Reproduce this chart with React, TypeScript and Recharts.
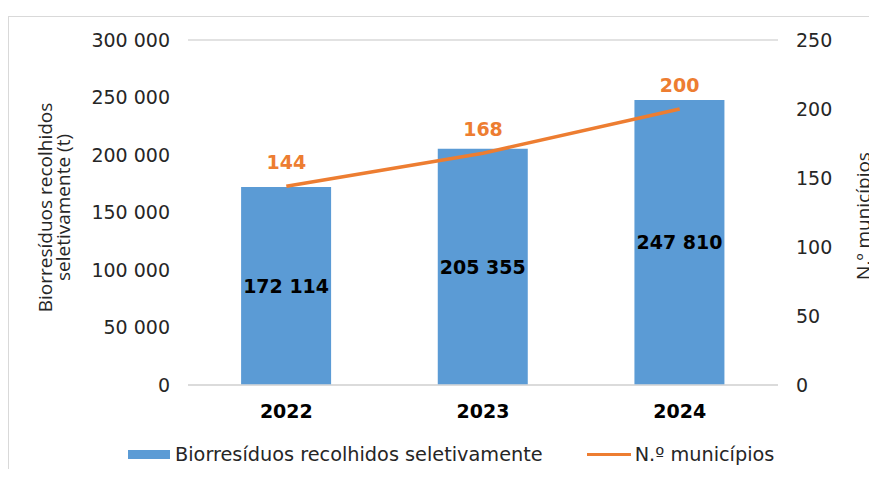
import React from 'react'
import {
  ComposedChart, Bar, Line, XAxis, YAxis, CartesianGrid, Legend, LabelList,
} from 'recharts'

const years = ['2022', '2023', '2024']
const residuos = [172114, 205355, 247810]
const municipios = [144, 168, 200]
const leftTicks = [0, 50000, 100000, 150000, 200000, 250000, 300000]
const rightTicks = [0, 50, 100, 150, 200, 250]

const data = years.map((year, i) => ({ year, residuos: residuos[i], municipios: municipios[i] }))

const BLUE = '#5B9BD5'
const ORANGE = '#ED7D31'
const GRID = '#d9d9d9'
const VERDANA = '"DejaVu Sans", Verdana, sans-serif'
const TITLE_FONT = '"Open Sans", sans-serif'

const fmt = (v: number) => String(v).replace(/\B(?=(\d{3})+(?!\d))/g, ' ')

const renderLegend = (props: any) => {
  const items = props.payload || []
  return (
    <div style={{ display: 'flex', alignItems: 'center', height: 24, fontFamily: VERDANA, fontSize: 19.3, color: '#262626' }}>
      {items.map((it: any, i: number) => (
        <div key={i} style={{ display: 'flex', alignItems: 'center', marginRight: 44 }}>
          {it.type === 'line'
            ? <span style={{ display: 'inline-block', width: 44, height: 3, background: ORANGE, marginRight: 4 }} />
            : <span style={{ display: 'inline-block', width: 42, height: 9, background: BLUE, marginRight: 5 }} />}
          <span style={{ whiteSpace: 'nowrap' }}>{it.value}</span>
        </div>
      ))}
    </div>
  )
}

export default function App() {
  return (
    <div style={{ margin: -8, width: 877, height: 477, position: 'relative', overflow: 'hidden', background: '#fff' }}>
      <div style={{ position: 'absolute', left: 8, top: 16, width: 1000, height: 1000, border: `1px solid ${GRID}` }} />
      <div style={{ position: 'absolute', left: 0, top: 0 }}>
        <ComposedChart
          width={877}
          height={477}
          data={data}
          margin={{ top: 40, right: 39, left: 88, bottom: 28 }}
          barCategoryGap="27%"
        >
          <CartesianGrid vertical={false} stroke={GRID} strokeWidth={1.5} />
          <XAxis
            dataKey="year"
            height={40}
            tickLine={false}
            tickSize={0}
            tickMargin={20}
            axisLine={{ stroke: GRID, strokeWidth: 1.5 }}
            tick={{ fontSize: 19, fontWeight: 'bold', fill: '#000', fontFamily: VERDANA }}
          />
          <YAxis
            yAxisId="left"
            width={100}
            domain={[0, 300000]}
            ticks={leftTicks}
            tickFormatter={fmt}
            axisLine={false}
            tickLine={false}
            tickSize={0}
            tickMargin={18}
            tick={{ fontSize: 19, fill: '#262626', fontFamily: VERDANA }}
            label={{
              content: (p: any) => {
                const cy = p.viewBox.y + p.viewBox.height / 2 - 5
                return (
                  <text transform={`translate(54, ${cy}) rotate(-90)`} textAnchor="middle" fontFamily={TITLE_FONT} fontSize={19} fill="#262626">
                    <tspan x={0} y={-9} dominantBaseline="central">Biorresíduos recolhidos</tspan>
                    <tspan x={0} y={9} dominantBaseline="central">seletivamente (t)</tspan>
                  </text>
                )
              },
            }}
          />
          <YAxis
            yAxisId="right"
            orientation="right"
            width={60}
            domain={[0, 250]}
            ticks={rightTicks}
            axisLine={false}
            tickLine={false}
            tickSize={0}
            tickMargin={18}
            tick={{ fontSize: 19, fill: '#262626', fontFamily: VERDANA }}
            label={{
              content: () => (
                <text transform="translate(863, 216) rotate(-90)" textAnchor="middle" dominantBaseline="central" fontFamily={TITLE_FONT} fontSize={19} fill="#262626">
                  N.º municípios
                </text>
              ),
            }}
          />
          <Bar yAxisId="left" dataKey="residuos" name="Biorresíduos recolhidos seletivamente" fill={BLUE} isAnimationActive={false}>
            <LabelList
              dataKey="residuos"
              position="center"
              formatter={(v: any) => fmt(Number(v))}
              style={{ fontSize: 19, fontWeight: 'bold', fill: '#000', fontFamily: VERDANA }}
            />
          </Bar>
          <Line
            yAxisId="right"
            type="linear"
            dataKey="municipios"
            name="N.º municípios"
            stroke={ORANGE}
            strokeWidth={3.5}
            dot={false}
            activeDot={false}
            isAnimationActive={false}
          >
            <LabelList
              dataKey="municipios"
              position="top"
              offset={17}
              style={{ fontSize: 19, fontWeight: 'bold', fill: ORANGE, fontFamily: VERDANA }}
            />
          </Line>
          <Legend
            verticalAlign="bottom"
            content={renderLegend}
            wrapperStyle={{ position: 'absolute', left: 128, top: 442, width: 'auto' }}
          />
        </ComposedChart>
      </div>
    </div>
  )
}
